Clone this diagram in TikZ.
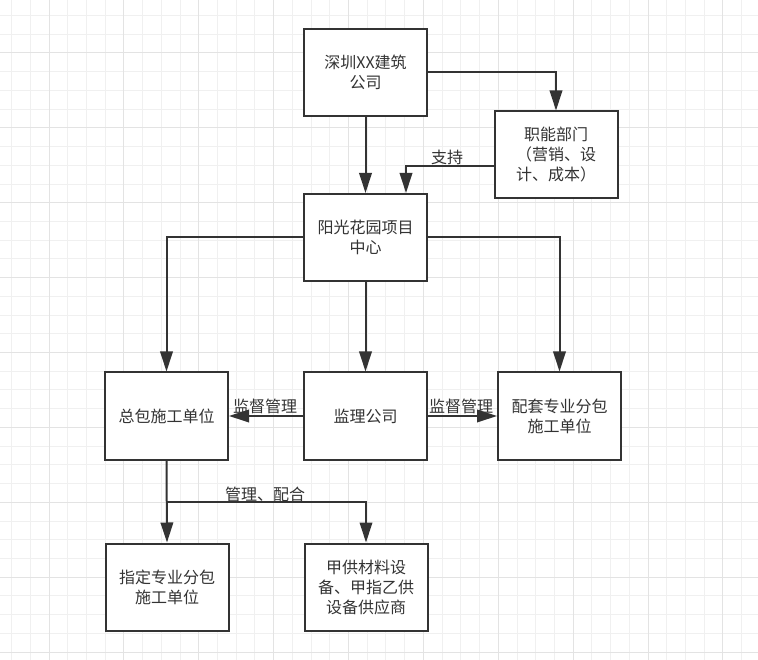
\documentclass[tikz,border=0pt]{standalone}
\usepackage{fontspec}
\setmainfont{Noto Sans CJK SC}
\usetikzlibrary{arrows.meta}
\definecolor{ink}{HTML}{333333}
\definecolor{gminor}{HTML}{F0F0F0}
\definecolor{gmajor}{HTML}{E3E3E3}
\tikzset{
  box/.style={draw=ink, line width=2pt, fill=white, minimum width=123pt, minimum height=87pt,
    inner sep=0pt, align=center, text=ink, font=\fontsize{16}{20}\selectfont},
  conn/.style={draw=ink, line width=2pt, -{Triangle[length=20pt,width=12.5pt]}},
  lbl/.style={text=ink, inner sep=0pt, font=\fontsize{16}{20}\selectfont},
  minorgrid/.style={draw=gminor, line width=1pt},
  majorgrid/.style={draw=gmajor, line width=1pt}
}
\begin{document}
\begin{tikzpicture}[x=1pt, y=-1pt]
\useasboundingbox (0,0) rectangle (758,660);
\fill[white] (0,0) rectangle (758,660);
\begin{scope}
\clip (0,0) rectangle (758,660);
\foreach \i in {-2,...,38} \draw[minorgrid] ({49+18.72*\i},0) -- ({49+18.72*\i},660);
\foreach \j in {-2,...,33} \draw[minorgrid] (0,{53+18.72*\j}) -- (758,{53+18.72*\j});
\foreach \i in {0,4,...,36} \draw[majorgrid] ({49+18.72*\i},0) -- ({49+18.72*\i},660);
\foreach \j in {0,4,...,32} \draw[majorgrid] (0,{53+18.72*\j}) -- (758,{53+18.72*\j});
\end{scope}

\node[box] (co) at (365.5,72.5) {深圳XX建筑\\公司};
\node[box] (fn) at (556,155) {职能部门\\（营销、设\\计、成本）};
\node[box] (yg) at (365.5,237.5) {阳光花园项目\\中心};
\node[box] (zb) at (166.5,416) {总包施工单位};
\node[box] (jl) at (365.5,416) {监理公司};
\node[box] (pt) at (559.5,416) {配套专业分包\\施工单位};
\node[box] (zd) at (167,587) {指定专业分包\\施工单位};
\node[box] (jg) at (366,587) {甲供材料设\\备、甲指乙供\\设备供应商};

\draw[conn] (co.east) -| (fn.north);
\draw[conn] (co.south) -- (yg.north);
\draw[conn] ([yshift=-11pt]fn.west) -| ([xshift=40.5pt]yg.north);
\draw[conn] (yg.west) -| (zb.north);
\draw[conn] (yg.east) -| (pt.north);
\draw[conn] (yg.south) -- (jl.north);
\draw[conn] (jl.west) -- (zb.east);
\draw[conn] (jl.east) -- (pt.west);
\draw[conn] (zb.south) -- (zd.north);
\coordinate (split) at (166.5,502);
\draw[conn] (split) -| (jg.north);

\node[lbl] (l1) at (447,157) {支持};
\node[lbl] (l2) at (265,406) {监督管理};
\node[lbl] (l3) at (461,406) {监督管理};
\node[lbl] (l4) at (265,494) {管理、配合};
\end{tikzpicture}
\end{document}
